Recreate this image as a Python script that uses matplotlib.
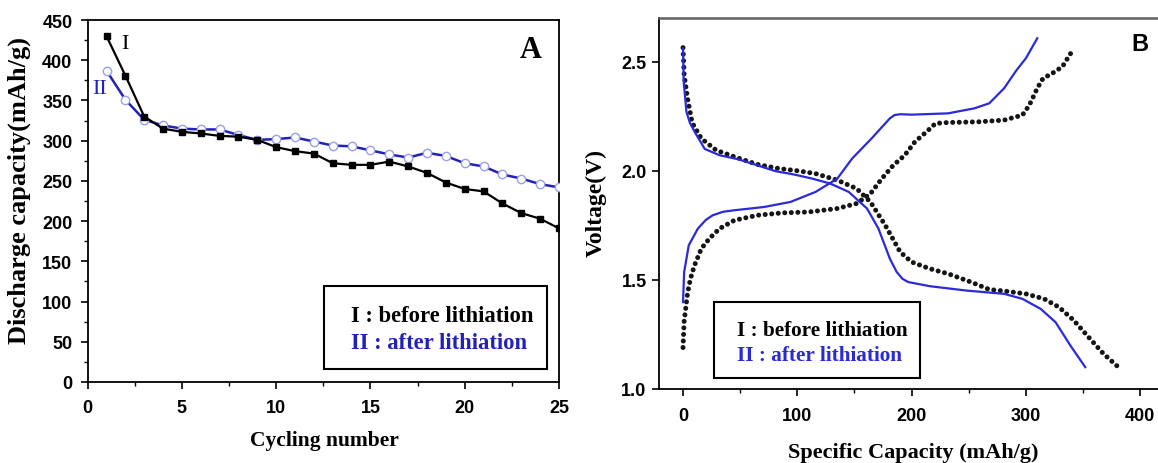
import matplotlib
matplotlib.use("Agg")
import matplotlib.pyplot as plt
from matplotlib.patches import Rectangle
from matplotlib.ticker import MultipleLocator

# panel A: discharge capacity vs cycle
cycles = list(range(1, 26))
cap_before = [430, 381, 330, 315, 311, 309, 306, 305, 301, 292, 287, 284, 272,
              270, 270, 274, 268, 260, 248, 240, 237, 222, 210, 203, 191]
cap_after = [387, 351, 326, 319, 315, 314, 314, 307, 301, 302, 304, 299, 294,
             293, 288, 283, 279, 285, 281, 272, 268, 258, 253, 246, 242]

# panel B: voltage profiles
dis_before_x = [0, 1, 4, 8, 16, 29, 45, 65, 84, 100, 116, 135, 152, 164, 177,
                190, 200, 216, 232, 252, 268, 284, 300, 316, 329, 342, 355, 368, 381]
dis_before_v = [2.564, 2.44, 2.33, 2.22, 2.148, 2.094, 2.064, 2.029, 2.01, 2.0,
                1.987, 1.957, 1.918, 1.857, 1.75, 1.628, 1.582, 1.551, 1.528,
                1.49, 1.456, 1.447, 1.436, 1.413, 1.375, 1.314, 1.237, 1.161, 1.10]
chg_before_x = [0, 1, 4, 6.5, 10, 16, 23, 32, 45, 65, 87, 110, 135, 152, 164,
                174, 184, 194, 203, 213, 221, 232, 258, 281, 297, 303, 310, 315,
                323, 332, 342]
chg_before_v = [1.19, 1.31, 1.44, 1.505, 1.566, 1.643, 1.689, 1.735, 1.773,
                1.796, 1.807, 1.811, 1.827, 1.85, 1.895, 1.964, 2.025, 2.071,
                2.133, 2.178, 2.217, 2.221, 2.224, 2.232, 2.255, 2.30, 2.378,
                2.423, 2.446, 2.477, 2.561]
dis_after_x = [0, 0.6, 3, 6, 10, 19, 32, 48, 65, 81, 97, 113, 129, 145, 161, 171,
               181, 187, 192, 197, 216, 248, 281, 297, 313, 326, 339, 352]
dis_after_v = [2.56, 2.408, 2.27, 2.22, 2.18, 2.10, 2.071, 2.053, 2.025, 1.998,
               1.983, 1.964, 1.941, 1.903, 1.827, 1.735, 1.597, 1.536, 1.505,
               1.49, 1.471, 1.451, 1.436, 1.413, 1.367, 1.306, 1.199, 1.10]
chg_after_x = [0, 1, 5, 13, 20, 26, 35, 45, 71, 94, 116, 135, 148, 165, 181,
               185, 190, 200, 232, 255, 268, 281, 292, 300, 310]
chg_after_v = [1.398, 1.536, 1.658, 1.735, 1.775, 1.796, 1.812, 1.819, 1.834,
               1.857, 1.903, 1.964, 2.056, 2.148, 2.24, 2.255, 2.259, 2.257,
               2.263, 2.286, 2.309, 2.378, 2.462, 2.515, 2.607]

SERIF = "Liberation Serif"
SANS = "Liberation Sans"
BLUE_A = "#2222b8"
BLUE_B = "#2a2ad8"


def style_axes(ax, tick_size, xpad, ypad):
    for s in ax.spines.values():
        s.set_linewidth(1.3)
    ax.tick_params(which="major", direction="out", length=5, width=1.2,
                   labelsize=tick_size)
    ax.tick_params(which="minor", direction="out", length=3, width=1.0)
    ax.tick_params(axis="x", which="major", pad=xpad)
    ax.tick_params(axis="y", which="major", pad=ypad)
    for lab in ax.get_xticklabels() + ax.get_yticklabels():
        lab.set_fontfamily(SANS)
        lab.set_fontweight("bold")


fig = plt.figure(figsize=(11.58, 4.64), dpi=100)

# ---- panel A
axA = fig.add_axes([0.0757, 0.1746, 0.407, 0.780])
axA.plot(cycles, cap_after, color=BLUE_A, lw=1.8, marker="o", ms=6,
         mfc="white", mec="#9aa0ea", mew=1.0, zorder=3)
axA.plot(cycles, cap_before, color="black", lw=1.6, marker="s", ms=4,
         mfc="black", mec="black", zorder=4)
axA.set_xlim(0, 25)
axA.set_ylim(0, 450)
axA.xaxis.set_major_locator(MultipleLocator(5))
axA.xaxis.set_minor_locator(MultipleLocator(2.5))
axA.yaxis.set_major_locator(MultipleLocator(50))
axA.yaxis.set_minor_locator(MultipleLocator(25))
style_axes(axA, 13, 7, 6)
axA.set_xlabel("Cycling number", fontfamily=SERIF, fontweight="bold", fontsize=15.5)
axA.set_ylabel("Discharge capacity(mAh/g)", fontfamily=SERIF, fontweight="bold",
               fontsize=19)
axA.xaxis.set_label_coords(0.502, -0.133)
axA.yaxis.set_label_coords(-0.120, 0.533)
axA.text(0.941, 0.92, "A", transform=axA.transAxes, ha="center", va="center",
         fontfamily=SERIF, fontweight="bold", fontsize=22)
axA.text(0.079, 0.934, "I", transform=axA.transAxes, ha="center", va="center",
         fontfamily=SERIF, fontsize=16)
axA.text(0.026, 0.81, "II", transform=axA.transAxes, ha="center", va="center",
         fontfamily=SERIF, fontsize=16, color=BLUE_A)
axA.add_patch(Rectangle((0.502, 0.036), 0.473, 0.229, transform=axA.transAxes,
                        fill=False, ec="black", lw=1.5, zorder=5))
axA.text(0.558, 0.185, "I : before lithiation", transform=axA.transAxes,
         ha="left", va="center", fontfamily=SERIF, fontweight="bold",
         fontsize=16.3, color="black")
axA.text(0.558, 0.110, "II : after lithiation", transform=axA.transAxes,
         ha="left", va="center", fontfamily=SERIF, fontweight="bold",
         fontsize=16.3, color=BLUE_A)

# ---- panel B
axB = fig.add_axes([0.5691, 0.1595, 0.4352, 0.7996])
dots = dict(color="#151515", lw=3.6, linestyle=(0, (0.01, 1.3)),
            dash_capstyle="round")
axB.plot(dis_before_x, dis_before_v, **dots)
axB.plot(chg_before_x, chg_before_v, **dots)
axB.plot(dis_after_x, dis_after_v, color=BLUE_B, lw=1.6)
axB.plot(chg_after_x, chg_after_v, color=BLUE_B, lw=1.6)
axB.set_xlim(-21, 420)
axB.set_ylim(1.0, 2.70)
axB.xaxis.set_major_locator(MultipleLocator(100))
axB.xaxis.set_minor_locator(MultipleLocator(50))
axB.yaxis.set_major_locator(MultipleLocator(0.5))
style_axes(axB, 13, 8, 4)
axB.spines["top"].set_color("#606060")
axB.spines["top"].set_linewidth(1.8)
axB.set_xlabel("Specific Capacity (mAh/g)", fontfamily=SERIF, fontweight="bold",
               fontsize=16)
axB.set_ylabel("Voltage(V)", fontfamily=SERIF, fontweight="bold", fontsize=17)
axB.xaxis.set_label_coords(0.504, -0.142)
axB.yaxis.set_label_coords(-0.103, 0.503)
axB.text(0.954, 0.93, "B", transform=axB.transAxes, ha="center", va="center",
         fontfamily=SANS, fontweight="bold", fontsize=17)
axB.add_patch(Rectangle((0.109, 0.030), 0.409, 0.2045, transform=axB.transAxes,
                        fill=False, ec="black", lw=1.5, zorder=5))
axB.text(0.155, 0.159, "I : before lithiation", transform=axB.transAxes,
         ha="left", va="center", fontfamily=SERIF, fontweight="bold",
         fontsize=15.3, color="black")
axB.text(0.155, 0.092, "II : after lithiation", transform=axB.transAxes,
         ha="left", va="center", fontfamily=SERIF, fontweight="bold",
         fontsize=15.3, color=BLUE_B)

fig.savefig("out.png", dpi=100)
